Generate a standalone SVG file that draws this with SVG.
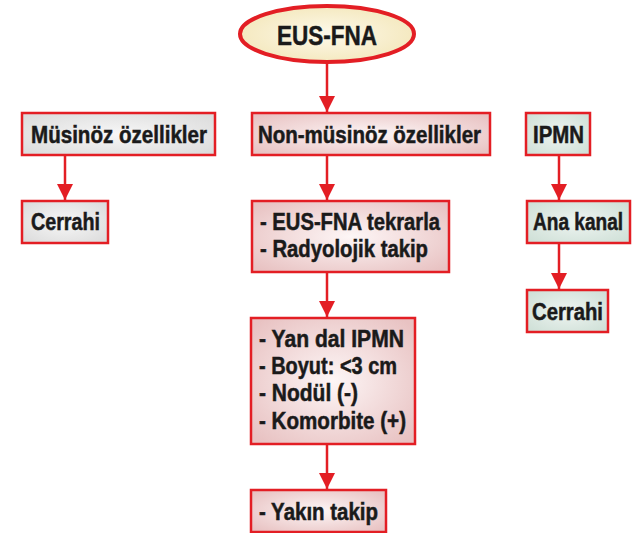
<svg xmlns="http://www.w3.org/2000/svg" width="633" height="533" viewBox="0 0 633 533">
<defs>
<radialGradient id="gPink" cx="50%" cy="50%" r="65%">
<stop offset="0" stop-color="#fdf6f6"/>
<stop offset="1" stop-color="#e8c2c2"/>
</radialGradient>
<radialGradient id="gGray" cx="50%" cy="50%" r="65%">
<stop offset="0" stop-color="#f7f7f7"/>
<stop offset="1" stop-color="#dcdcdc"/>
</radialGradient>
<radialGradient id="gGreen" cx="50%" cy="50%" r="65%">
<stop offset="0" stop-color="#eef4f1"/>
<stop offset="1" stop-color="#cfe0d7"/>
</radialGradient>
<radialGradient id="gCream" cx="50%" cy="50%" r="60%">
<stop offset="0" stop-color="#fdf9ea"/>
<stop offset="1" stop-color="#f3e6b8"/>
</radialGradient>
<marker id="ah" markerUnits="userSpaceOnUse" markerWidth="16" markerHeight="16" viewBox="0 0 16 16" refX="16" refY="8" orient="auto">
<path d="M0,0 L16,8 L0,16 Z" fill="#e31e24"/>
</marker>
</defs>
<style>
.box{stroke:#e31e24;stroke-width:2.5}
.pink{fill:url(#gPink)}
.gray{fill:url(#gGray)}
.green{fill:url(#gGreen)}
.t{font-family:"Liberation Sans",Arial,sans-serif;font-weight:bold;font-size:23px;fill:#1a1a1a;stroke:#1a1a1a;stroke-width:0.5}
.conn{stroke:#e31e24;stroke-width:2.5;fill:none;marker-end:url(#ah)}
</style>
<g id="connectors">
<line class="conn" x1="327" y1="63" x2="327" y2="112"/>
<line class="conn" x1="65" y1="155" x2="65" y2="200"/>
<line class="conn" x1="327" y1="155" x2="327" y2="200"/>
<line class="conn" x1="327" y1="272" x2="327" y2="317"/>
<line class="conn" x1="327" y1="444" x2="327" y2="489"/>
<line class="conn" x1="559" y1="155" x2="559" y2="200"/>
<line class="conn" x1="559" y1="243" x2="559" y2="289"/>
</g>
<g id="root">
<ellipse cx="327" cy="34" rx="87" ry="28" fill="url(#gCream)" stroke="#e31e24" stroke-width="4"/>
<text class="t" x="277" y="45" style="font-size:28px" textLength="100" lengthAdjust="spacingAndGlyphs">EUS-FNA</text>
</g>
<g id="musinoz">
<rect class="box gray" x="22" y="113" width="193" height="42"/>
<text class="t" x="31" y="143" textLength="176" lengthAdjust="spacingAndGlyphs">Müsinöz özellikler</text>
</g>
<g id="cerrahi-left">
<rect class="box gray" x="22" y="201" width="86" height="42"/>
<text class="t" x="31" y="230" textLength="69" lengthAdjust="spacingAndGlyphs">Cerrahi</text>
</g>
<g id="nonmusinoz">
<rect class="box pink" x="252" y="113" width="238" height="42"/>
<text class="t" x="258" y="143" textLength="223" lengthAdjust="spacingAndGlyphs">Non-müsinöz özellikler</text>
</g>
<g id="tekrar">
<rect class="box pink" x="252" y="201" width="197" height="71"/>
<text class="t" x="260" y="230" textLength="180" lengthAdjust="spacingAndGlyphs">- EUS-FNA tekrarla</text>
<text class="t" x="260" y="257" textLength="168" lengthAdjust="spacingAndGlyphs">- Radyolojik takip</text>
</g>
<g id="yandal">
<rect class="box pink" x="251" y="318" width="164" height="126"/>
<text class="t" x="259" y="347" textLength="145" lengthAdjust="spacingAndGlyphs">- Yan dal IPMN</text>
<text class="t" x="259" y="374" textLength="138" lengthAdjust="spacingAndGlyphs">- Boyut: &lt;3 cm</text>
<text class="t" x="259" y="401" textLength="99" lengthAdjust="spacingAndGlyphs">- Nodül (-)</text>
<text class="t" x="259" y="429" textLength="147" lengthAdjust="spacingAndGlyphs">- Komorbite (+)</text>
</g>
<g id="yakin">
<rect class="box pink" x="251" y="490" width="135" height="42"/>
<text class="t" x="259" y="520" textLength="119" lengthAdjust="spacingAndGlyphs">- Yakın takip</text>
</g>
<g id="ipmn">
<rect class="box green" x="526" y="113" width="64" height="42"/>
<text class="t" x="533" y="143" textLength="51" lengthAdjust="spacingAndGlyphs">IPMN</text>
</g>
<g id="anakanal">
<rect class="box green" x="527" y="201" width="103" height="42"/>
<text class="t" transform="translate(533,230) scale(0.83,1)" x="0" y="0">Ana kanal</text>
</g>
<g id="cerrahi-right">
<rect class="box green" x="527" y="290" width="81" height="42"/>
<text class="t" x="532" y="320" textLength="71" lengthAdjust="spacingAndGlyphs">Cerrahi</text>
</g>
</svg>
